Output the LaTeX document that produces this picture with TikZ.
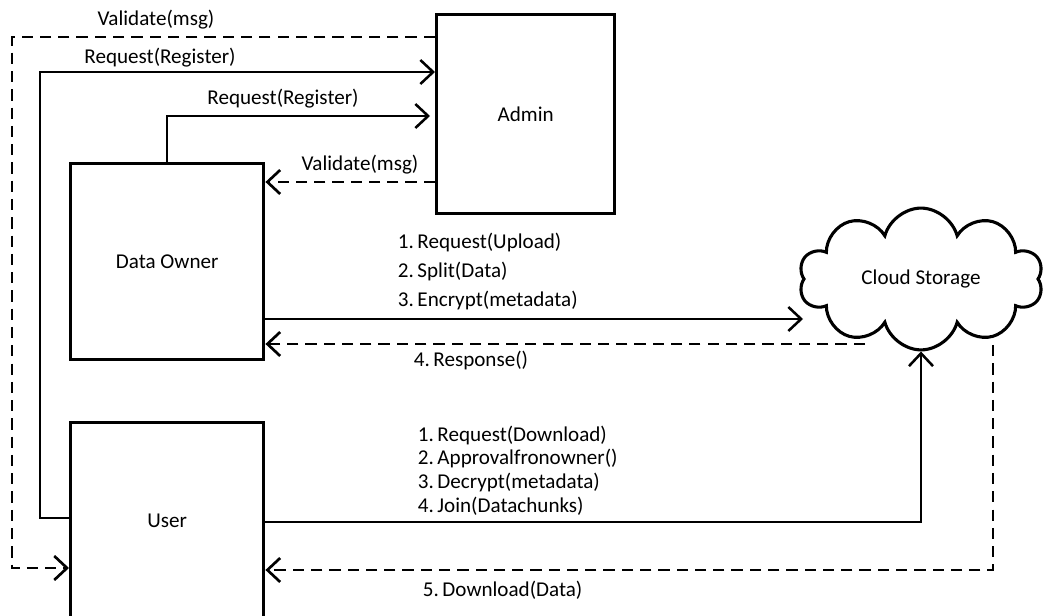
\documentclass[tikz,border=0pt]{standalone}
\usepackage{fontspec}
\setmainfont{Carlito}
\usetikzlibrary{shapes.symbols,arrows.meta}
\begin{document}
\begin{tikzpicture}[x=0.025cm,y=-0.025cm,>={Straight Barb[length=3.2mm,width=6mm]},every node/.style={font=\fontsize{15}{18}\selectfont},box/.style={draw,rectangle,line width=2.4pt,anchor=north west},flow/.style={->,line width=1.8pt},back/.style={->,line width=1.9pt,dash pattern=on 8pt off 5pt}]
\useasboundingbox (0,0) rectangle (1046,616);
\clip (0,0) rectangle (1046,616);
\node[box,minimum width=4.45cm,minimum height=4.975cm] (admin) at (435,13) {Admin};
\node[box,minimum width=4.825cm,minimum height=4.9cm] (owner) at (69,162) {Data Owner};
\node[box,minimum width=4.825cm,minimum height=4.925cm] (user) at (69,421) {User};
\node[cloud,draw,line width=2.2pt,cloud puffs=10,aspect=1.75,minimum width=6.1cm,minimum height=3.5cm] (cloud) at (921,279) {Cloud Storage};
\coordinate (a1) at (12,37);
\coordinate (a2) at (12,568);
\draw[back] (admin.west |- a1) -- (a1) -- (a2) -- (user.west |- a2);
\node (v1) at (156,20) {Validate(msg)};
\coordinate (b1) at (40,518);
\coordinate (b2) at (40,72);
\draw[flow] (user.west |- b1) -- (b1) -- (b2) -- (admin.west |- b2);
\node (r1) at (160,58) {Request(Register)};
\coordinate (c1) at (0,116);
\draw[flow] (owner.north) |- ([xshift=-0.125cm]admin.west |- c1);
\node (r2) at (283,99) {Request(Register)};
\coordinate (d1) at (0,182);
\draw[back] (admin.west |- d1) -- (owner.east |- d1);
\node (v2) at (360,165) {Validate(msg)};
\coordinate (e1) at (803,319);
\draw[flow] (owner.east |- e1) -- (e1);
\node[anchor=west] (u1) at (393,242) {1.\,Request(Upload)};
\node[anchor=west] (u2) at (393,271) {2.\,Split(Data)};
\node[anchor=west] (u3) at (393,300) {3.\,Encrypt(metadata)};
\coordinate (f1) at (865,344);
\draw[back] (f1) -- (owner.east |- f1);
\node (u4) at (471,360) {4.\,Response()};
\coordinate (g1) at (0,522);
\draw[flow] (user.east |- g1) -| (cloud.south);
\node[anchor=west] (w1) at (413,435) {1.\,Request(Download)};
\node[anchor=west] (w2) at (413,458) {2.\,Approvalfronowner()};
\node[anchor=west] (w3) at (413,482) {3.\,Decrypt(metadata)};
\node[anchor=west] (w4) at (413,506) {4.\,Join(Datachunks)};
\coordinate (h1) at (993,345);
\coordinate (h2) at (993,570);
\draw[back] (h1) -- (h2) -- (user.east |- h2);
\node[anchor=west] (w5) at (418,590) {5.\,Download(Data)};
\end{tikzpicture}
\end{document}
